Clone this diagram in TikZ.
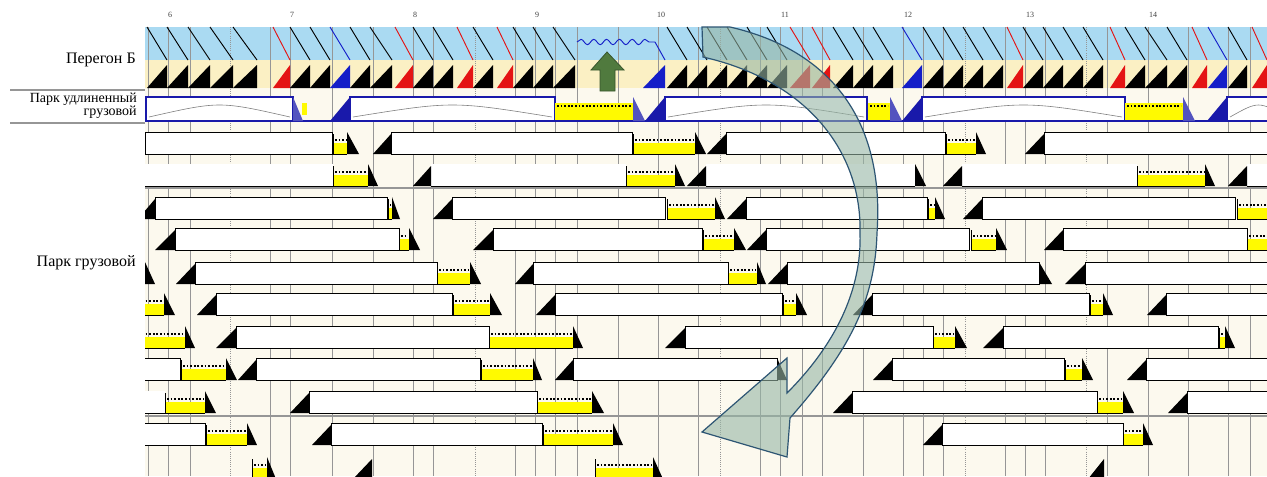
\documentclass[tikz,border=0pt]{standalone}
\usepackage{fontspec}
\setmainfont{Liberation Serif}
\usetikzlibrary{decorations.pathmorphing}
\definecolor{bandblue}{RGB}{170, 218, 242}
\definecolor{bandcream}{RGB}{251, 240, 196}
\definecolor{chartbg}{RGB}{252, 249, 238}
\definecolor{gridgray}{RGB}{150, 150, 150}
\definecolor{cargoyellow}{RGB}{255, 250, 0}
\definecolor{sawred}{RGB}{228, 20, 20}
\definecolor{sawblue}{RGB}{20, 30, 200}
\definecolor{ublue}{RGB}{25, 25, 170}
\definecolor{upgreen}{RGB}{80, 122, 62}
\definecolor{turnfill}{RGB}{150, 182, 165}
\definecolor{turnline}{RGB}{45, 85, 115}

% packs two title lines close together
\newcommand{\tightlines}{\lineskiplimit=-20pt\relax}

% one track of the freight yard: top y, open bars, white bars, cargo, end steps, start ramps
\newcommand{\freighttrack}[6]{%
  \foreach \xa/\xb in {#2}{\fill[openbar] (\xa,#1) rectangle (\xb,#1+22); \draw[trackline] (\xa,#1+22) -- (\xb,#1+22);}
  \foreach \xa/\xb in {#3}{\draw[wbar] (\xa,#1) rectangle (\xb,#1+22);}
  \foreach \xa/\xb in {#4}{\fill[cargo] (\xa,#1+11) rectangle (\xb,#1+22);
    \draw[cargomark] (\xa+2,#1+8) -- (\xb-1,#1+8);
    \draw[trackline] (\xa,#1+2) -- (\xa,#1+22) -- (\xb,#1+22);}
  \foreach \xa/\xb in {#5}{\fill[stepdown] (\xa,#1) -- (\xa,#1+22) -- (\xb,#1+22) -- cycle;}
  \foreach \xa/\xb in {#6}{\fill[ramp] (\xa,#1+22) -- (\xb,#1+22) -- (\xb,#1+2) -- cycle;}
}

\begin{document}
\begin{tikzpicture}[
    x=0.75pt, y=-0.75pt,
    wbar/.style={fill=white, draw=black, line width=0.7pt},
    openbar/.style={fill=white},
    trackline/.style={draw=black, line width=0.7pt},
    cargo/.style={fill=cargoyellow},
    cargomark/.style={draw=black, line width=1.1pt, dash pattern=on 1.4pt off 1.3pt},
    stepdown/.style={fill=black},
    ramp/.style={fill=black},
    gridline/.style={draw=gridgray, line width=0.6pt},
    halfhour/.style={draw=gridgray, line width=0.6pt, densely dotted},
    sepline/.style={draw=gridgray, line width=0.8pt},
    ubar/.style={fill=white, draw=ublue, line width=0.9pt},
    hump/.style={draw=gray, line width=0.45pt},
    lbl/.style={font=\fontsize{12}{13}\selectfont, anchor=east, inner sep=0pt},
    hourlbl/.style={font=\fontsize{6}{7}\selectfont, text=black!75, inner sep=0pt},
    turnarrow/.style={fill=turnfill, fill opacity=0.6, draw=turnline, line width=0.9pt}
]
    \useasboundingbox (0,0) rectangle (1267,476);

    % Hour scale
    \foreach \h/\hx in {6/170, 7/292, 8/415, 9/537, 10/661, 11/785, 12/908, 13/1030, 14/1153}
        \node[hourlbl] (h\h) at (\hx,15) {\h};

    % Row titles
    \node[lbl] (peregon) at (136,60) {Перегон Б};
    \node[lbl, align=right, font=\fontsize{10.5}{9.6}\selectfont\tightlines] (udlin) at (137,106) {Парк удлиненный\\грузовой};
    \node[lbl] (gruzovoy) at (136,263) {Парк грузовой};
    \draw[sepline] (10,90) -- (145,90);
    \draw[sepline] (10,123) -- (145,123);

    \begin{scope}
    \clip (145,0) rectangle (1267,476);

    % Backgrounds
    \fill[chartbg] (145,88) rectangle (1267,476);
    \fill[bandblue] (145,27) rectangle (1267,60);
    \fill[bandcream] (145,60) rectangle (1267,88);

    % Time grid
    \foreach \gx in {148, 168, 190, 270, 290, 332, 373, 413, 433, 515, 535, 555, 577, 618, 658, 698, 760, 780, 802, 822, 863, 903, 923, 943, 1005, 1025, 1045, 1107, 1148, 1188, 1228, 1250}
        \draw[gridline] (\gx,27) -- (\gx,476);
    \foreach \gx in {230, 475, 720, 965, 1086}
        \draw[halfhour] (\gx,27) -- (\gx,476);

    % Peregon B: train threads and occupation
    \foreach \xa/\xb/\c in {147/167/black, 167/188/black, 188/210/black, 210/233/black, 233/257/black,
        273/290/sawred, 290/310/black, 310/330/black, 330/350/sawblue, 350/370/black, 370/392/black,
        395/413/sawred, 413/433/black, 433/453/black, 457/473/sawred, 473/493/black, 497/513/sawred,
        513/533/black, 533/553/black, 553/575/black, 667/687/black, 687/707/black, 707/727/black,
        727/747/black, 747/767/black, 767/787/black, 790/810/sawred, 812/830/sawred, 833/853/black,
        853/873/black, 873/893/black, 902/922/sawblue, 923/943/black, 943/963/black, 963/983/black,
        983/1003/black, 1007/1023/sawred, 1023/1043/black, 1043/1063/black, 1063/1083/black,
        1083/1103/black, 1110/1125/sawred, 1125/1145/black, 1145/1167/black, 1167/1187/black,
        1192/1207/sawred, 1208/1227/sawblue, 1228/1247/black, 1252/1267/sawred}{
        \draw[\c, line width=0.7pt] (\xa,27) -- (\xb,60);
        \fill[\c] (\xa,88) -- (\xb,88) -- (\xb,65) -- cycle;
    }
    \fill[sawblue] (643,88) -- (665,88) -- (665,65) -- cycle;
    \draw[sawblue, line width=0.7pt, decorate, decoration={snake, segment length=9.6pt, amplitude=2pt}] (577,42) -- (655,42);
    \draw[sawblue, line width=0.7pt] (655,42) -- (665,60);

    % Window for track work
    \draw[fill=upgreen, draw=upgreen!70!black, line width=0.6pt]
        (607,52) -- (624,70) -- (615,70) -- (615,91) -- (600,91) -- (600,70) -- (591,70) -- cycle;

    % Park udlinenny gruzovoy
    \draw[ublue, line width=1.6pt] (146,121) -- (1275,121);
    \foreach \xa/\xb in {146/293, 350/555, 665/867, 922/1125, 1227/1290}{
        \draw[ubar] (\xa,97) rectangle (\xb,121);
        \draw[hump] (\xa+3,117) .. controls ({(\xa+\xb)/2},101) .. (\xb-3,117);
    }
    \foreach \xa/\xb in {555/633, 868/890, 1125/1183}{
        \fill[cargo] (\xa,103) rectangle (\xb,120);
        \draw[cargomark] (\xa+2,106) -- (\xb-2,106);
    }
    \fill[cargo] (302,103) rectangle (307,115);
    \foreach \xa/\xb in {293/303, 633/645, 890/902, 1183/1195}
        \fill[ublue!75] (\xa,97) -- (\xa,121) -- (\xb,121) -- cycle;
    \foreach \xa/\xb in {330/350, 645/665, 902/922, 1207/1227}
        \fill[ublue] (\xa,121) -- (\xb,121) -- (\xb,97) -- cycle;

    % Park gruzovoy
    \draw[sepline] (145,188) -- (1267,188);
    \draw[sepline] (145,416) -- (1267,416);
    \freighttrack{132}{0/0}{145/332, 391/632, 726/945, 1044/1275}{333/347, 633/695, 946/976}{347/359, 695/706, 976/986}{373/391, 707/726, 1025/1044}
    \freighttrack{164}{145/333, 431/626, 706/915, 962/1137, 1247/1275}{0/0}{333/368, 626/675, 1137/1205}{368/378, 675/685, 915/926, 1205/1215}{413/431, 687/706, 943/962, 1228/1247}
    \freighttrack{197}{0/0}{155/387, 452/665, 746/927, 982/1235}{388/392, 667/715, 928/935, 1237/1275}{392/400, 715/725, 935/945}{138/155, 433/452, 727/746, 963/982}
    \freighttrack{228}{0/0}{175/399, 493/702, 766/969, 1063/1247}{399/409, 703/734, 971/996, 1247/1275}{409/420, 734/746, 996/1007}{155/175, 473/493, 747/766, 1044/1063}
    \freighttrack{262}{0/0}{195/437, 533/728, 787/1039, 1085/1275}{437/470, 728/757}{145/155, 470/481, 757/766, 1039/1052}{176/195, 515/533, 768/787, 1065/1085}
    \freighttrack{293}{0/0}{216/452, 555/782, 872/1089, 1166/1275}{140/164, 453/490, 783/796, 1090/1103}{164/175, 490/502, 796/807, 1103/1113}{197/216, 536/555, 853/872, 1147/1166}
    \freighttrack{326}{0/0}{236/489, 685/933, 1003/1218}{140/185, 489/573, 933/955, 1219/1225}{185/195, 573/583, 955/967, 1225/1235}{216/236, 665/685, 983/1003}
    \freighttrack{358}{0/0}{140/180, 256/480, 573/777, 892/1064, 1146/1275}{181/226, 481/533, 1065/1082}{226/237, 533/542, 777/787, 1082/1093}{238/256, 555/573, 873/892, 1127/1146}
    \freighttrack{391}{140/165}{309/537, 852/1097, 1187/1275}{165/205, 537/592, 1097/1123}{205/216, 592/604, 1123/1134}{290/309, 833/852, 1168/1187}
    \freighttrack{423}{0/0}{140/205, 331/542, 942/1123}{206/247, 543/613, 1123/1143}{247/257, 613/623, 1143/1153}{312/331, 923/942}
    \freighttrack{457}{0/0}{0/0}{252/267, 595/653}{267/276, 653/663}{353/372, 1088/1104}

    % Turn-round arrow
    \draw[turnarrow] (702,27) -- (730,27)
        .. controls (830,50) and (885,120) .. (877,233)
        .. controls (875,300) and (850,350) .. (790,418)
        -- (787,457) -- (702,432) -- (787,358) -- (787,393)
        .. controls (835,345) and (862,290) .. (860,233)
        .. controls (862,150) and (805,80) .. (703,57) -- cycle;
    \end{scope}
\end{tikzpicture}
\end{document}
